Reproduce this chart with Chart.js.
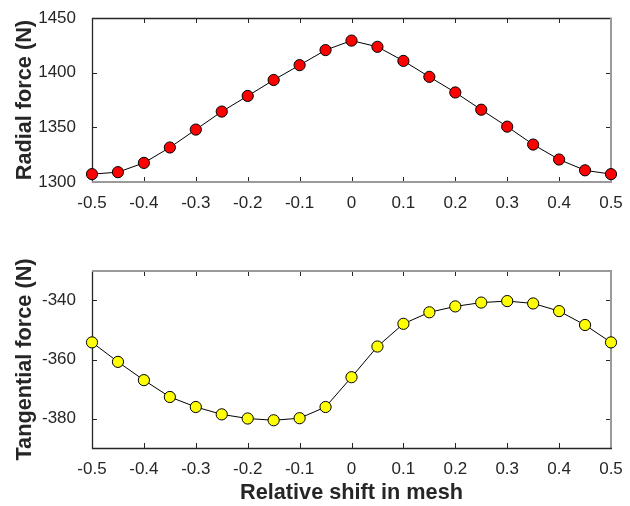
<!DOCTYPE html>
<html><head><meta charset="utf-8">
<script src="https://cdn.jsdelivr.net/npm/chart.js@4"></script>
<style>
body{margin:0;background:#fff;width:630px;height:506px;position:relative;overflow:hidden}
#c1{position:absolute;left:0;top:0;width:630px;height:240px}
#c2{position:absolute;left:0;top:240px;width:630px;height:266px}
</style></head>
<body>
<canvas id="c1" width="630" height="240"></canvas>
<canvas id="c2" width="630" height="266"></canvas>
<script>
const shifts = [-0.5,-0.45,-0.4,-0.35,-0.3,-0.25,-0.2,-0.15,-0.1,-0.05,0,0.05,0.1,0.15,0.2,0.25,0.3,0.35,0.4,0.45,0.5];
const radialForce = [1307.2,1309,1317.5,1331.6,1348,1364.5,1378.8,1393.4,1407,1420.8,1429.5,1423.8,1410.9,1396.3,1382,1366.2,1350.7,1334.3,1320.6,1310.7,1307.2];
const tangentialForce = [-354.2,-360.8,-367,-372.7,-376.1,-378.6,-380,-380.6,-379.9,-376.1,-366,-355.6,-347.9,-344,-342,-340.7,-340.2,-341,-343.6,-348.3,-354.2];
const xTicks = [-0.5,-0.4,-0.3,-0.2,-0.1,0,0.1,0.2,0.3,0.4,0.5];
const radialTicks = [1300,1350,1400,1450];
const tangentialTicks = [-380,-360,-340];

const TXT = '#262626';
const FONT = "'Liberation Sans', Arial, Helvetica, sans-serif";

function makeBox(topDark, bottomDark){
  return {
    id:'box',
    beforeDatasetsDraw(chart){
      const {ctx, chartArea:a, scales:{x,y}} = chart;
      const L=Math.round(a.left), R=Math.round(a.right), T=Math.round(a.top), B=Math.round(a.bottom);
      ctx.save();
      ctx.strokeStyle = TXT; ctx.lineWidth = 1;
      ctx.beginPath();
      x.ticks.forEach(t=>{
        const px = Math.round(x.getPixelForValue(t.value))+0.5;
        ctx.moveTo(px,B); ctx.lineTo(px,B-5);
        ctx.moveTo(px,T); ctx.lineTo(px,T+5);
      });
      y.ticks.forEach(t=>{
        const py = Math.round(y.getPixelForValue(t.value))+0.5;
        ctx.moveTo(L,py); ctx.lineTo(L+5,py);
        ctx.moveTo(R,py); ctx.lineTo(R-5,py);
      });
      ctx.stroke();
      const line=(x1,y1,x2,y2,dark)=>{
        ctx.beginPath();
        ctx.strokeStyle = dark ? TXT : '#9a9a9a';
        ctx.lineWidth = dark ? 1.3 : 2;
        ctx.moveTo(x1,y1); ctx.lineTo(x2,y2); ctx.stroke();
      };
      line(L+0.5,T,L+0.5,B+1,true);
      line(L,topDark?T+0.5:T,R+1,topDark?T+0.5:T,topDark);
      line(R,T,R,B+1,false);
      line(L,bottomDark?B+0.5:B,R+1,bottomDark?B+0.5:B,bottomDark);
      ctx.restore();
    }
  };
}

function fmtX(v){
  const s = (Math.round(v*10)/10).toFixed(1);
  return s==='0.0' || s==='-0.0' ? '0' : s;
}

function makeChart(id, data, color, yMin, yMax, yTickVals, yTitle, showXTitle, padTop, topDark, bottomDark){
  return new Chart(document.getElementById(id), {
    type:'line',
    data:{ datasets:[{
      data: shifts.map((s,i)=>({x:s, y:data[i]})),
      borderColor:'#000', borderWidth:1,
      pointBackgroundColor:color, pointBorderColor:'#000', pointBorderWidth:1,
      pointRadius:5.6, pointHoverRadius:5.6, tension:0, clip:false
    }]},
    options:{
      responsive:false, animation:false, devicePixelRatio:1,
      layout:{padding:{top:padTop, right:19, left:0, bottom:0}},
      plugins:{legend:{display:false}, tooltip:{enabled:false}},
      scales:{
        x:{
          type:'linear', min:-0.5, max:0.5,
          afterBuildTicks(s){ s.ticks = xTicks.map(v=>({value:v})); },
          afterFit(s){ s.height = 58; },
          grid:{display:false}, border:{display:false},
          ticks:{color:TXT, font:{family:FONT, size:17}, padding:3, maxRotation:0, autoSkip:false,
                 callback:v=>fmtX(v)},
          title:{display:showXTitle, text:'Relative shift in mesh', color:TXT,
                 font:{family:FONT, size:21.7, weight:'bold'}, padding:{top:0,bottom:0}}
        },
        y:{
          min:yMin, max:yMax,
          afterBuildTicks(s){ s.ticks = yTickVals.map(v=>({value:v})); },
          afterFit(s){ s.width = 92; },
          grid:{display:false}, border:{display:false},
          ticks:{color:TXT, font:{family:FONT, size:17}, padding:8, callback:v=>String(v)},
          title:{display:true, text:yTitle, color:TXT,
                 font:{family:FONT, size:21.7, weight:'bold'}, padding:{top:12,bottom:0}}
        }
      }
    },
    plugins:[makeBox(topDark,bottomDark)]
  });
}

makeChart('c1', radialForce, '#ff0000', 1300, 1450, radialTicks, 'Radial force (N)', false, 15, true, false);
makeChart('c2', tangentialForce, '#ffff00', -390, -330, tangentialTicks, 'Tangential force (N)', true, 31, false, true);
</script>
</body></html>
